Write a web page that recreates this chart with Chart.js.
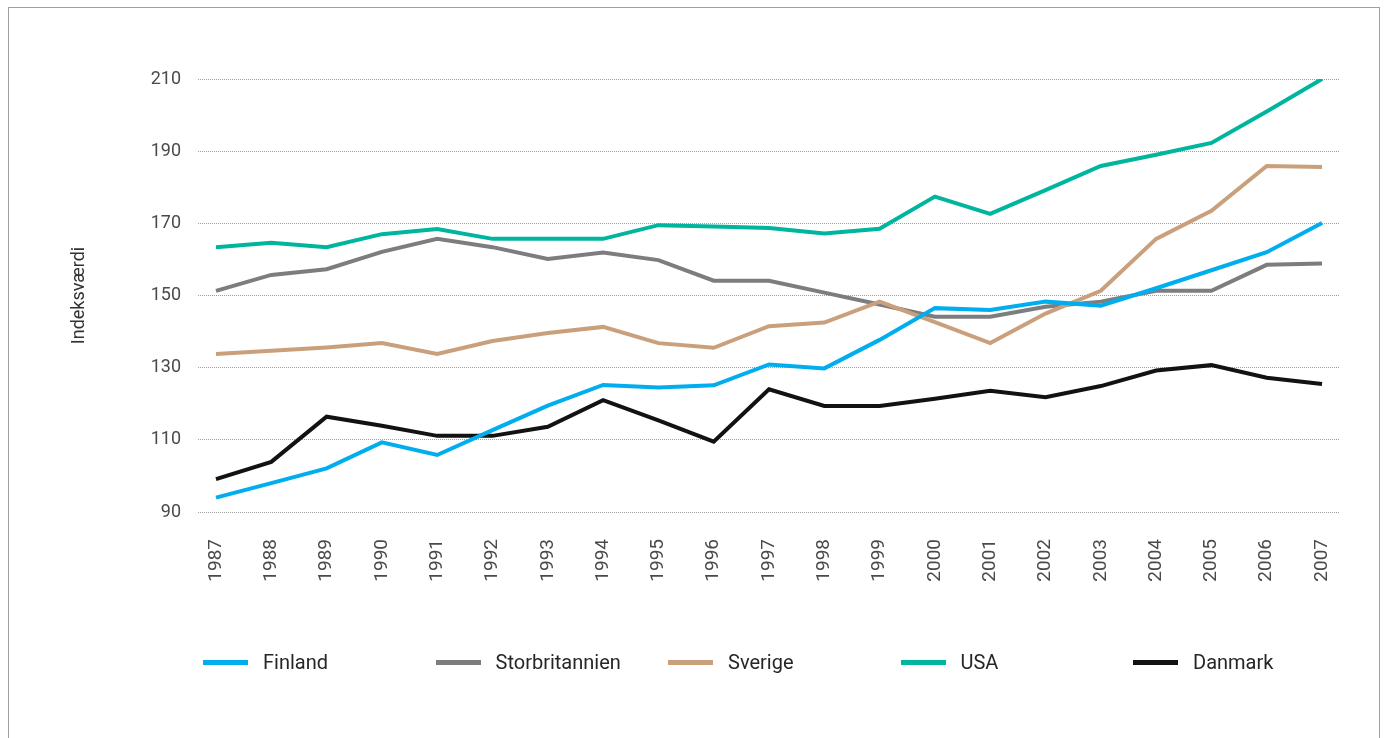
<!DOCTYPE html>
<html>
<head>
<meta charset="utf-8">
<script src="https://cdn.jsdelivr.net/npm/chart.js@4.4.1/dist/chart.umd.min.js"></script>
<style>
  html, body { margin:0; padding:0; background:#fff; width:1390px; height:738px; overflow:hidden; }
  #frame { position:absolute; left:8px; top:7px; width:1372px; height:800px; border:1px solid #a0a0a0; box-sizing:border-box; }
  #wrap { position:absolute; left:0; top:0; width:1390px; height:738px; }
  #legend { position:absolute; left:0; top:649px; width:1390px; height:26px; font-family: Roboto, "Noto Sans", sans-serif; }
  .item { position:absolute; top:0; height:26px; display:flex; align-items:center; font-size:20px; color:#262626; white-space:nowrap; }
  .swatch { width:45px; height:5px; margin-right:15px; }
</style>
</head>
<body>
<div id="frame"></div>
<div id="wrap"><canvas id="c" width="1390" height="738"></canvas></div>
<div id="legend"></div>
<script>
// ---- data ----
const years = [1987,1988,1989,1990,1991,1992,1993,1994,1995,1996,1997,1998,1999,2000,2001,2002,2003,2004,2005,2006,2007];
const finland        = [94.0, 98.0, 102.1, 109.3, 105.8, 112.7, 119.5, 125.2, 124.5, 125.1, 130.9, 129.8, 137.7, 146.5, 146.0, 148.3, 147.2, 152.0, 157.0, 162.0, 170.1];
const storbritannien = [151.3, 155.7, 157.3, 162.1, 165.7, 163.4, 160.1, 161.9, 159.8, 154.1, 154.1, 150.8, 147.5, 144.1, 144.1, 146.9, 148.3, 151.3, 151.3, 158.5, 158.9];
const sverige        = [133.8, 134.7, 135.6, 136.8, 133.8, 137.4, 139.6, 141.3, 136.8, 135.5, 141.5, 142.5, 148.3, 142.6, 136.8, 145.0, 151.3, 165.7, 173.5, 185.9, 185.6];
const usa            = [163.4, 164.6, 163.4, 167.0, 168.4, 165.7, 165.7, 165.7, 169.5, 169.1, 168.7, 167.2, 168.5, 177.4, 172.6, 179.2, 185.9, 189.0, 192.3, 201.0, 210.0];
const danmark        = [99.1, 103.9, 116.4, 113.9, 111.1, 111.1, 113.6, 121.0, 115.4, 109.5, 124.0, 119.4, 119.4, 121.4, 123.6, 121.8, 124.9, 129.2, 130.7, 127.2, 125.5];
const yTicks = [90, 110, 130, 150, 170, 190, 210];
const seriesNames = ["Finland", "Storbritannien", "Sverige", "USA", "Danmark"];
const yTitle = "Indeksværdi";

const colors = ["#00aeef", "#7d7d80", "#c9a07b", "#00b59d", "#121212"];
const drawOrder = [1, 3, 2, 4, 5];
const seriesData = [finland, storbritannien, sverige, usa, danmark];

const datasets = seriesNames.map((name, i) => ({
  label: name,
  data: years.map((y, k) => ({ x: y, y: seriesData[i][k] })),
  borderColor: colors[i],
  backgroundColor: colors[i],
  borderWidth: 4,
  pointRadius: 0,
  tension: 0,
  fill: false,
  order: drawOrder[i]
}));

const tickFont = { family: "Roboto, 'Noto Sans', sans-serif", size: 18 };

new Chart(document.getElementById('c'), {
  type: 'line',
  data: { datasets },
  options: {
    responsive: false,
    animation: false,
    events: [],
    layout: { padding: { left: 0, right: 50, top: 79, bottom: 126 } },
    plugins: { legend: { display: false }, tooltip: { enabled: false } },
    scales: {
      x: {
        type: 'linear',
        min: 1986.675,
        max: 2007.325,
        afterBuildTicks: (s) => { s.ticks = years.map(v => ({ value: v })); },
        afterFit: (s) => { s.height = 100; },
        grid: { display: false, drawTicks: false },
        border: { display: false },
        ticks: {
          minRotation: 90, maxRotation: 90, padding: 27,
          autoSkip: false,
          color: '#4a4a4a',
          font: { family: "Roboto, 'Noto Sans', sans-serif", size: 19 },
          callback: (v) => String(v)
        }
      },
      y: {
        min: 90,
        max: 210,
        afterBuildTicks: (s) => { s.ticks = yTicks.map(v => ({ value: v })); },
        afterFit: (s) => { s.width = 198; },
        grid: { color: '#9c9c9c', lineWidth: 1, drawTicks: false },
        border: { display: false, dash: [1, 1] },
        ticks: { padding: 17, color: '#4a4a4a', font: tickFont, callback: (v) => String(v) },
        title: {
          display: true,
          text: yTitle,
          color: '#333',
          font: { family: "Roboto, 'Noto Sans', sans-serif", size: 18 },
          padding: { top: 69, bottom: 0 }
        }
      }
    }
  }
});

// HTML legend built from series names and colours
const legend = document.getElementById('legend');
seriesNames.forEach((name, i) => {
  const it = document.createElement('div');
  it.className = 'item';
  it.style.left = (203 + i * 232.5) + 'px';
  const sw = document.createElement('span');
  sw.className = 'swatch';
  sw.style.background = colors[i];
  const tx = document.createElement('span');
  tx.textContent = name;
  it.appendChild(sw); it.appendChild(tx);
  legend.appendChild(it);
});
</script>
</body>
</html>
